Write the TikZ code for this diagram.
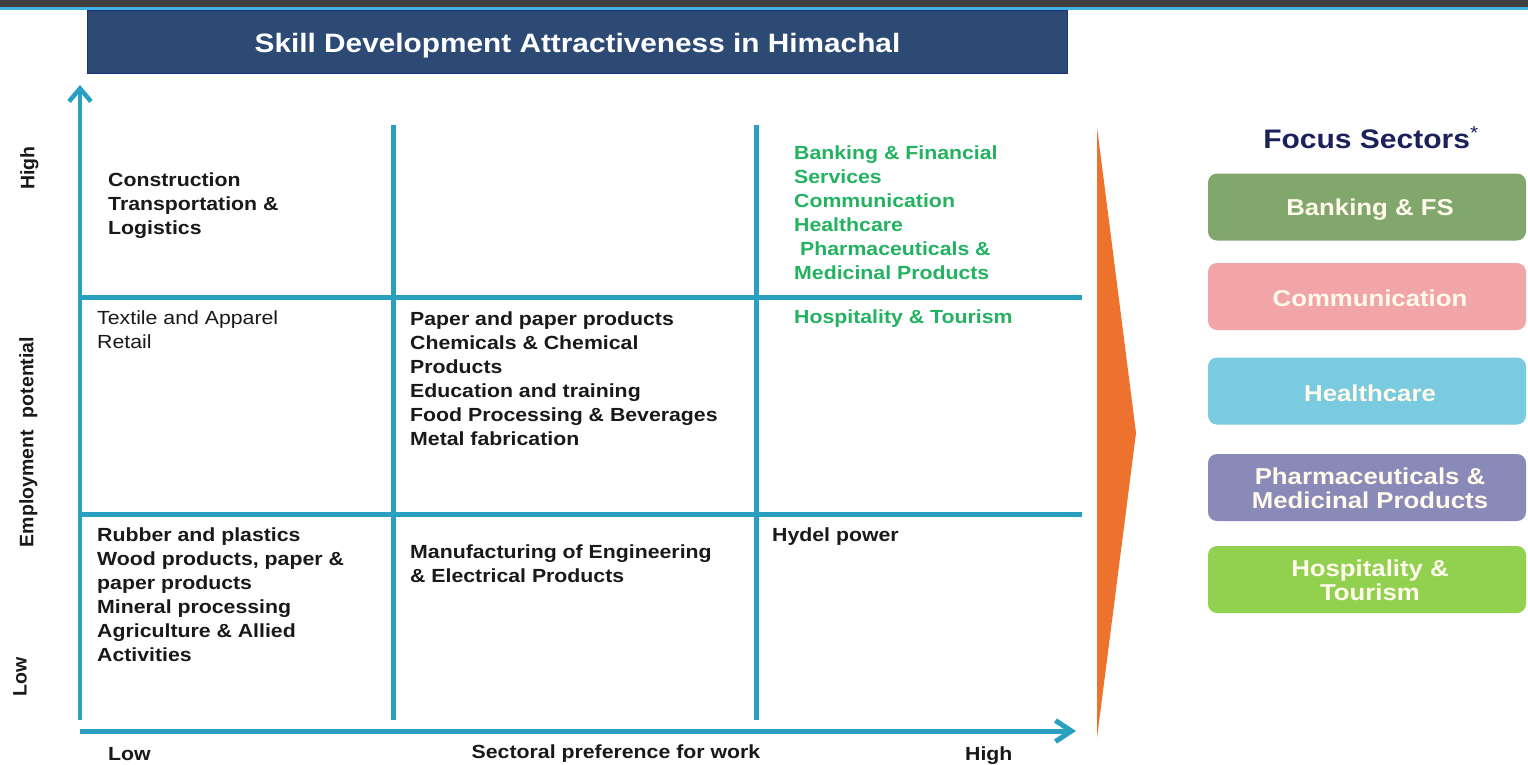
\documentclass[tikz,border=0pt]{standalone}
\usepackage{fontspec}
\setmainfont{Liberation Sans}[FakeStretch=1.12]
\newfontfamily\rotfont{Liberation Sans}
\usetikzlibrary{arrows.meta}
\definecolor{gridc}{RGB}{41,160,191}
\definecolor{orangec}{RGB}{237,114,45}
\definecolor{bankc}{RGB}{130,167,109}
\definecolor{commc}{RGB}{242,165,166}
\definecolor{healthc}{RGB}{122,202,224}
\definecolor{pharmac}{RGB}{137,138,184}
\definecolor{hospc}{RGB}{146,208,80}
\definecolor{titlec}{RGB}{44,74,116}
\definecolor{titleborder}{RGB}{28,48,128}
\definecolor{focusc}{RGB}{27,33,90}
\definecolor{greentxt}{RGB}{34,178,96}
\definecolor{boxtxt}{RGB}{255,250,235}
\definecolor{bandgrey}{RGB}{64,64,64}
\definecolor{bandblue}{RGB}{64,180,230}
\definecolor{txtc}{RGB}{25,25,25}
\tikzset{
  celltxt/.style={anchor=north west, align=left, inner sep=0pt, text=txtc,
    font=\fontsize{19}{24}\selectfont\bfseries},
  cellreg/.style={celltxt, font=\fontsize{19}{24}\selectfont},
  celltxtg/.style={celltxt, text=greentxt},
  gridline/.style={draw=gridc, line width=5pt},
  axisline/.style={draw=gridc, line width=4.5pt},
  axlab/.style={inner sep=0pt, text=txtc, font=\fontsize{19}{24}\selectfont\bfseries},
  rotlab/.style={inner sep=0pt, text=txtc, rotate=90, anchor=north,
    font=\rotfont\fontsize{19.5}{24}\selectfont\bfseries},
  fbox/.style={rounded corners=9pt, minimum width=318pt, minimum height=67pt,
    inner sep=0pt},
  ftext/.style={inner sep=0pt, align=center, text=boxtxt,
    font=\fontsize{23}{24}\selectfont\bfseries},
}
\begin{document}
\begin{tikzpicture}[x=1pt,y=-1pt]
\useasboundingbox (0,0) rectangle (1528,764);
\fill[white] (0,0) rectangle (1528,764);
% top band
\fill[bandgrey] (0,0) rectangle (1528,6.5);
\fill[bandblue] (0,6.5) rectangle (1528,9.5);
% title
\node[draw=titleborder, line width=1.5pt, fill=titlec, minimum width=980pt,
  minimum height=63pt, inner sep=0pt] (title) at (577.5,42) {};
\node[inner sep=0pt, text=white, font=\fontsize{26.6}{30}\selectfont\bfseries]
  (titletext) at ([yshift=-4pt]title.center) {Skill Development Attractiveness in Himachal};
% grid lines
\coordinate (v1t) at (393,125); \coordinate (v1b) at (393,720);
\coordinate (v2t) at (756,125); \coordinate (v2b) at (756,720);
\coordinate (h1l) at (80,297); \coordinate (h1r) at (1082,297);
\coordinate (h2l) at (80,514); \coordinate (h2r) at (1082,514);
\draw[gridline] (v1t) -- (v1b);
\draw[gridline] (v2t) -- (v2b);
\draw[gridline] (h1l) -- (h1r);
\draw[gridline] (h2l) -- (h2r);
% axes
\coordinate (yb) at (80,720); \coordinate (yt) at (80,85);
\coordinate (xl) at (80,731); \coordinate (xr) at (1076,731);
\draw[axisline, -{Straight Barb[length=13pt,width=22pt]}] (yb) -- (yt);
\draw[axisline, line width=5pt, -{Straight Barb[length=16pt,width=21pt]}] (xl) -- (xr);
% axis labels
\node[rotlab] (yhigh) at (20,168) {High};
\node[rotlab] (yemp) at (19,442) {Employment\hspace{12pt}potential};
\node[rotlab] (ylow) at (13,677) {Low};
\node[axlab, anchor=north west] (xlow) at (108,747) {Low};
\node[axlab, anchor=north] (xmid) at (616,745) {Sectoral preference for work};
\node[axlab, anchor=north west] (xhigh) at (965,747) {High};
% cell texts
\node[celltxt] (c11) at (108,173) {Construction\\Transportation \&\\Logistics};
\node[cellreg] (c21) at (97,311) {Textile and Apparel\\Retail};
\node[celltxt] (c31) at (97,528) {Rubber and plastics\\Wood products, paper \&\\paper products\\Mineral processing\\Agriculture \& Allied\\Activities};
\node[celltxt] (c22) at (410,312) {Paper and paper products\\Chemicals \& Chemical\\Products\\Education and training\\Food Processing \& Beverages\\Metal fabrication};
\node[celltxt] (c32) at (410,545) {Manufacturing of Engineering\\\& Electrical Products};
\node[celltxtg] (c13) at (794,146) {Banking \& Financial\\Services\\Communication\\Healthcare\\\hspace*{6pt}Pharmaceuticals \&\\Medicinal Products};
\node[celltxtg] (c23) at (794,310) {Hospitality \& Tourism};
\node[celltxt] (c33) at (772,528) {Hydel power};
% orange triangle
\fill[orangec] (1097,127) -- (1136,433) -- (1097,738) -- cycle;
% focus sectors
\node[inner sep=0pt, text=focusc, font=\fontsize{26.8}{30}\selectfont\bfseries] (fs) at (1371,138) {Focus Sectors\textsuperscript{\mdseries *}};
\node[fbox, fill=bankc] (f1) at (1367,207) {};
\node[fbox, fill=commc] (f2) at (1367,296.5) {};
\node[fbox, fill=healthc] (f3) at (1367,391) {};
\node[fbox, fill=pharmac] (f4) at (1367,487.5) {};
\node[fbox, fill=hospc] (f5) at (1367,579.5) {};
\node[ftext] (t1) at ([xshift=3pt,yshift=-3pt]f1.center) {Banking \& FS};
\node[ftext] (t2) at ([xshift=3pt,yshift=-2pt]f2.center) {Communication};
\node[ftext] (t3) at ([xshift=3pt,yshift=-2pt]f3.center) {Healthcare};
\node[ftext] (t4) at ([xshift=3pt,yshift=-1pt]f4.center) {Pharmaceuticals \&\\Medicinal Products};
\node[ftext] (t5) at ([xshift=3pt,yshift=-1pt]f5.center) {Hospitality \&\\Tourism};
\end{tikzpicture}
\end{document}
